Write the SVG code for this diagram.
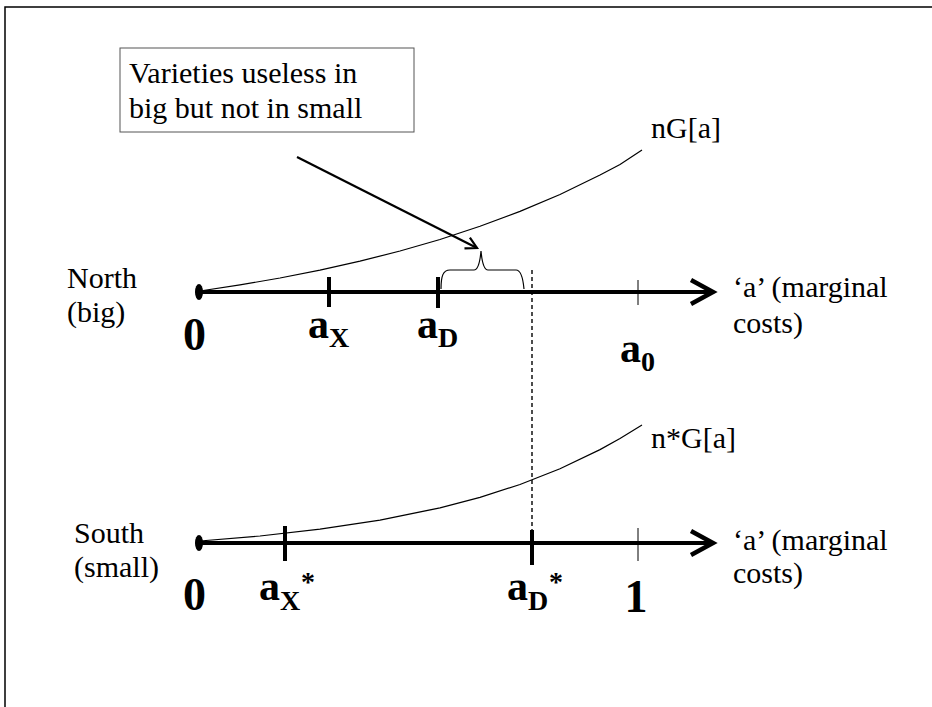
<svg xmlns="http://www.w3.org/2000/svg" width="932" height="707" viewBox="0 0 932 707">
<defs>
<style>
.t{font-family:"Liberation Serif","Times New Roman",serif;font-size:30px;fill:#000}
.b{font-family:"Liberation Serif","Times New Roman",serif;font-size:42px;font-weight:bold;fill:#000}
.d{font-family:"Liberation Serif","Times New Roman",serif;font-size:46px;font-weight:bold;fill:#000}
.s{font-family:"Liberation Serif","Times New Roman",serif;font-size:28px;font-weight:bold;fill:#000}
.axis{stroke:#000;stroke-width:4;fill:none}
.thick{stroke:#000;stroke-width:4}
.thin{stroke:#000;stroke-width:1}
.curve{stroke:#000;stroke-width:1.2;fill:none}
.head{fill:none;stroke:#000;stroke-width:4.5}
</style>
<marker id="ah" viewBox="0 0 14 14" refX="12" refY="7" markerWidth="14" markerHeight="14" markerUnits="userSpaceOnUse" orient="auto">
<path d="M1,1 L12,7 L1,13" fill="none" stroke="#000" stroke-width="2.2"/>
</marker>
</defs>
<rect x="0" y="0" width="932" height="707" fill="#fff"/>
<rect x="5" y="7" width="940" height="720" fill="none" stroke="#000" stroke-width="1.5"/>

<g id="note">
<rect x="120" y="48" width="294" height="84" fill="#fff" stroke="#555" stroke-width="1"/>
<text class="t" x="129" y="83">Varieties useless in</text>
<text class="t" x="129" y="118">big but not in small</text>
</g>

<g id="connectors">
<line x1="297" y1="157" x2="477" y2="248" stroke="#000" stroke-width="2.2" marker-end="url(#ah)"/>
<line x1="532" y1="270" x2="532" y2="532" stroke="#000" stroke-width="1.4" stroke-dasharray="4,3"/>
</g>

<g id="north">
<text class="t" x="67" y="288">North</text>
<text class="t" x="67" y="322">(big)</text>
<ellipse cx="199" cy="292" rx="4" ry="8" fill="#000"/>
<line class="axis" x1="199" y1="292" x2="710" y2="292"/>
<path class="head" d="M691,280 L713,292 L691,304"/>
<line class="thick" x1="329" y1="277" x2="329" y2="307"/>
<line class="thick" x1="438" y1="277" x2="438" y2="308"/>
<line class="thin" x1="638" y1="280" x2="638" y2="305"/>
<polyline class="curve" points="200,291 240,284.9 280,278 320,270.1 360,261.2 400,251 440,239.5 480,226.3 520,211.4 560,194.5 600,175 620,164.6 642,150"/>
<path class="curve" d="M441,289 C441,276 443,270 450,270 L474,270 C478,270 480,262 481,251 C482,262 484,270 488,270 L516,270 C521,270 523,278 524,289"/>
<text class="t" x="651" y="138">nG[a]</text>
<text class="d" x="183" y="350">0</text>
<text class="b" x="308" y="338">a</text><text class="s" x="329" y="347">X</text>
<text class="b" x="417" y="338">a</text><text class="s" x="438" y="347">D</text>
<text class="b" x="620" y="362">a</text><text class="s" x="641" y="371">0</text>
<text class="t" x="733" y="297">‘a’ (marginal</text>
<text class="t" x="733" y="333">costs)</text>
</g>

<g id="south">
<text class="t" x="74" y="543">South</text>
<text class="t" x="74" y="577">(small)</text>
<ellipse cx="199" cy="543" rx="4" ry="8" fill="#000"/>
<line class="axis" x1="199" y1="543" x2="710" y2="543"/>
<path class="head" d="M691,531 L713,543 L691,555"/>
<line class="thick" x1="285" y1="526" x2="285" y2="561"/>
<line class="thick" x1="532" y1="530" x2="532" y2="565"/>
<line class="thin" x1="638" y1="528" x2="638" y2="561"/>
<polyline class="curve" points="200,541 260,536 320,529.2 380,520.1 440,507.8 480,497.3 520,484.5 560,468.8 600,449.6 620,438.5 642,425"/>
<text class="t" x="651" y="448">n*G[a]</text>
<text class="d" x="183" y="610">0</text>
<text class="b" x="259" y="600">a</text><text class="s" x="280" y="610">X</text><text class="s" x="301" y="591">*</text>
<text class="b" x="507" y="600">a</text><text class="s" x="528" y="610">D</text><text class="s" x="549" y="591">*</text>
<text class="d" x="636" y="612" text-anchor="middle">1</text>
<text class="t" x="733" y="550">‘a’ (marginal</text>
<text class="t" x="733" y="583">costs)</text>
</g>
</svg>
